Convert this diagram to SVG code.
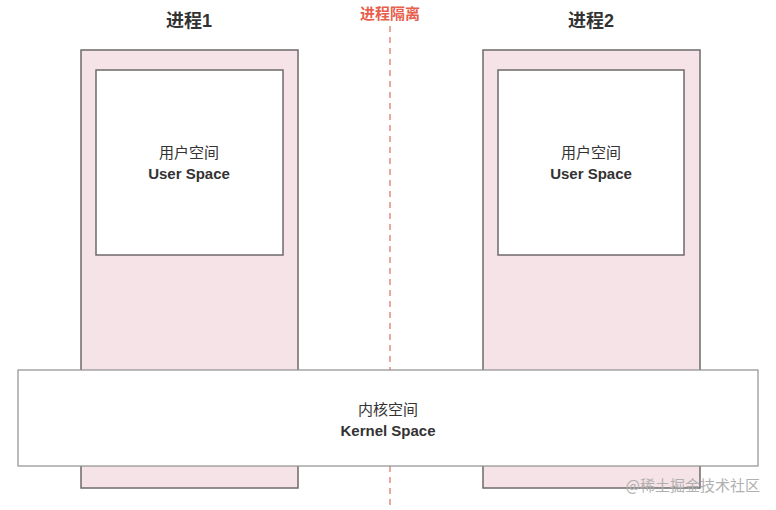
<svg xmlns="http://www.w3.org/2000/svg" width="776" height="510" viewBox="0 0 776 510">
<style>
.proc{fill:#f6e3e7;stroke:#6e6a6b;stroke-width:1.5}
.user{fill:#fff;stroke:#6e6a6b;stroke-width:1.5}
.kern{fill:#fff;stroke:#8f8f8f;stroke-width:1.2}
.t{font-family:"Liberation Sans","Noto Sans CJK SC",sans-serif;fill:#333;text-anchor:middle}
.zh{font-size:15px}
.en{font-size:15px;font-weight:bold}
.title{font-size:18px;font-weight:bold}
</style>
<rect width="776" height="510" fill="#fff"/>
<g id="connectors">
<line x1="390" y1="26" x2="390" y2="506" stroke="#e38a80" stroke-width="1.5" stroke-dasharray="6 5"/>
</g>
<text class="t" x="390" y="19" style="font-size:15px;font-weight:bold;fill:#e8604c">进程隔离</text>
<g id="process1">
<rect class="proc" x="81" y="50" width="217" height="438"/>
<text class="t title" x="189" y="27">进程1</text>
</g>
<g id="userspace1">
<rect class="user" x="96" y="70" width="187" height="185"/>
<text class="t zh" x="189" y="158">用户空间</text>
<text class="t en" x="189" y="179">User Space</text>
</g>
<g id="process2">
<rect class="proc" x="483" y="50" width="217" height="438"/>
<text class="t title" x="591" y="27">进程2</text>
</g>
<g id="userspace2">
<rect class="user" x="498" y="70" width="186" height="185"/>
<text class="t zh" x="591" y="158">用户空间</text>
<text class="t en" x="591" y="179">User Space</text>
</g>
<g id="kernel">
<rect class="kern" x="18" y="370" width="740" height="96"/>
<text class="t zh" x="388" y="415">内核空间</text>
<text class="t en" x="388" y="436">Kernel Space</text>
</g>
<text x="760" y="491" style="font-family:'Noto Sans CJK SC',sans-serif;font-size:15px;fill:#b0b0b0;text-anchor:end">@稀土掘金技术社区</text>
</svg>
